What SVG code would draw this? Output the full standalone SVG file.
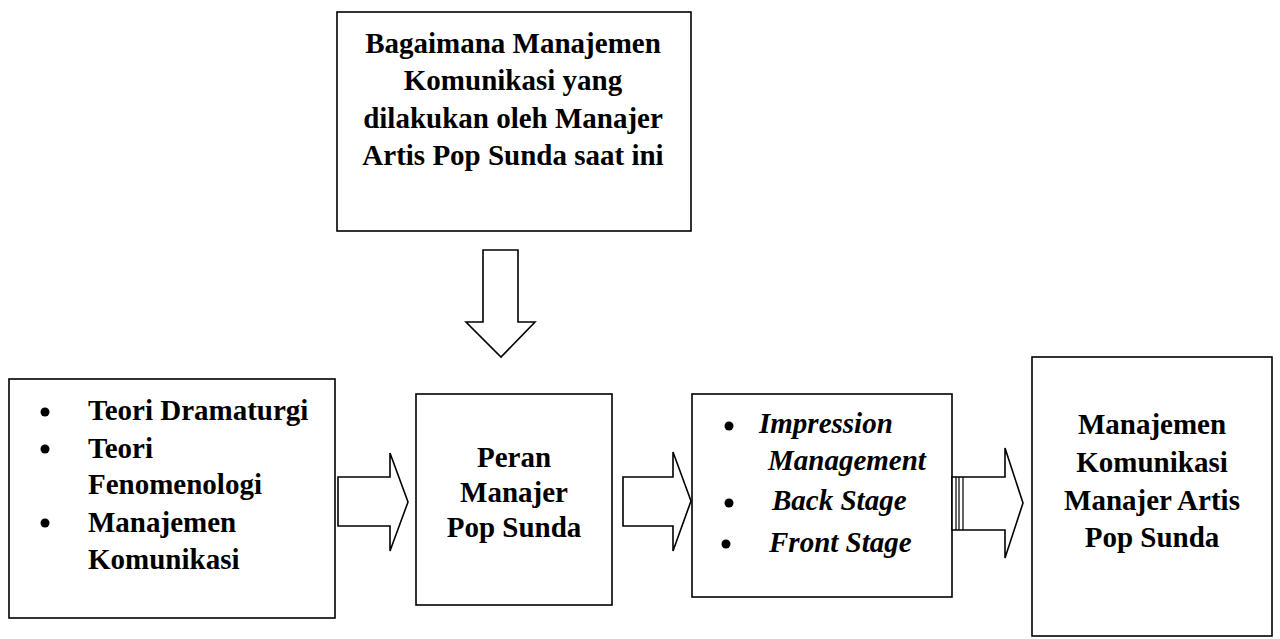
<svg xmlns="http://www.w3.org/2000/svg" width="1280" height="639" viewBox="0 0 1280 639">
<style>
.box{fill:#fff;stroke:#000;stroke-width:1.6}
.arr{fill:#fff;stroke:#000;stroke-width:1.6;stroke-linejoin:miter}
.t{font-family:"Liberation Serif","Times New Roman",serif;font-size:29px;font-weight:bold;fill:#000}
.dot{fill:#000}
.c{text-anchor:middle}
.i{font-style:italic}
</style>
<rect width="1280" height="639" fill="#fff"/>
<g id="n-question">
<rect class="box" x="337" y="12" width="354" height="219"/>
<text class="t c" x="513" y="53">Bagaimana Manajemen</text>
<text class="t c" x="513" y="90">Komunikasi yang</text>
<text class="t c" x="513" y="128">dilakukan oleh Manajer</text>
<text class="t c" x="513" y="165">Artis Pop Sunda saat ini</text>
</g>
<g id="n-theories">
<rect class="box" x="9" y="379" width="326" height="239"/>
<circle class="dot" cx="45" cy="412" r="4.5"/>
<text class="t" x="88" y="420">Teori Dramaturgi</text>
<circle class="dot" cx="45" cy="449" r="4.5"/>
<text class="t" x="88" y="458">Teori</text>
<text class="t" x="88" y="494">Fenomenologi</text>
<circle class="dot" cx="45" cy="523" r="4.5"/>
<text class="t" x="88" y="532">Manajemen</text>
<text class="t" x="88" y="569">Komunikasi</text>
</g>
<g id="n-peran">
<rect class="box" x="416" y="394" width="196" height="211"/>
<text class="t c" x="514" y="467">Peran</text>
<text class="t c" x="514" y="502">Manajer</text>
<text class="t c" x="514" y="537">Pop Sunda</text>
</g>
<g id="n-concepts">
<rect class="box" x="692" y="394" width="260" height="203"/>
<circle class="dot" cx="729" cy="426" r="4.5"/>
<text class="t i" x="759" y="433">Impression</text>
<text class="t i" x="768" y="470">Management</text>
<circle class="dot" cx="729" cy="503" r="4.5"/>
<text class="t i" x="772" y="510">Back Stage</text>
<circle class="dot" cx="726" cy="544" r="4.5"/>
<text class="t i" x="769" y="552">Front Stage</text>
</g>
<g id="n-result">
<rect class="box" x="1032" y="357" width="240" height="279"/>
<text class="t c" x="1152" y="434">Manajemen</text>
<text class="t c" x="1152" y="472">Komunikasi</text>
<text class="t c" x="1152" y="510">Manajer Artis</text>
<text class="t c" x="1152" y="547">Pop Sunda</text>
</g>
<g id="connectors">
<polygon class="arr" points="483,250 518,250 518,322 535,322 501,357 466,322 483,322"/>
<polygon class="arr" points="338,477 390,477 390,453 408,502 390,551 390,526 338,526"/>
<polygon class="arr" points="623,477 673,477 673,452 691,501 673,551 673,526 623,526"/>
<polygon class="arr" points="952,477 1005,477 1005,448 1023,503 1005,558 1005,530 952,530"/>
<path d="M956 477V530M959 477V530M963 477V530" stroke="#000" stroke-width="1.2" fill="none"/>
</g>
</svg>
